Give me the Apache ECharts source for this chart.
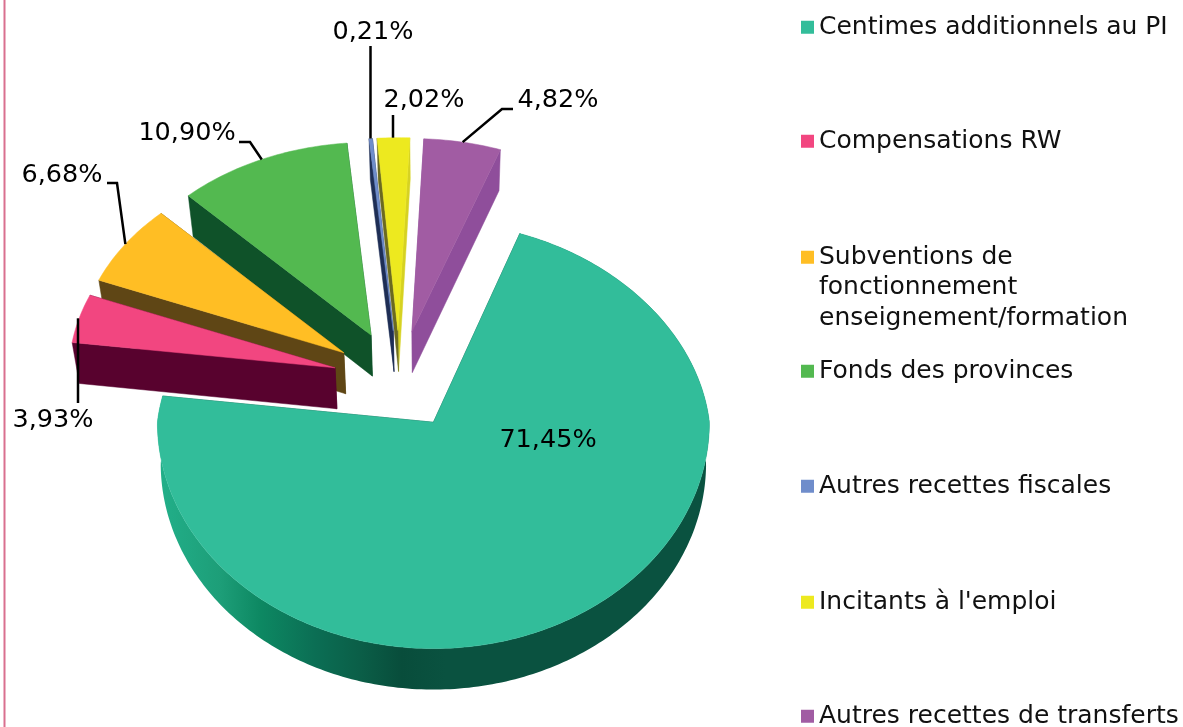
<!DOCTYPE html>
<html lang="fr">
<head>
    <meta charset="utf-8">
    <title>Recettes</title>
    <style>html,body{margin:0;padding:0;background:#fff}</style>
</head>
<body>
<div id='chart' style='width:1183px;height:727px'></div>
<script src='https://cdn.jsdelivr.net/npm/echarts@6/dist/echarts.min.js'></script>
<script>
// data
var categories = ['Centimes additionnels au PI', 'Compensations RW',
    'Subventions de\nfonctionnement\nenseignement/formation', 'Fonds des provinces',
    'Autres recettes fiscales', "Incitants à l'emploi", 'Autres recettes de transferts'];
var values = [71.45, 3.93, 6.68, 10.90, 0.21, 2.02, 4.82];

// colours
var topColors = ['#32BD9A', '#F24680', '#FFBE24', '#53B950', '#6F8DCB', '#EDE91F', '#A15CA3'];
var wallColors = ['#0A5240', '#58022E', '#5F4615', '#0F5229', '#1E2E55', '#6B6A20', '#8F4E9B'];
var endWallColors = ['#0A5240', '#58022E', '#5F4615', '#0F5229', '#1E2E55', '#D6D222', '#8F4E9B'];
var mainWallStops = [[0, '#22B08A'], [0.22, '#1D9E78'], [0.36, '#0D8862'], [0.55, '#0B6E54'],
    [0.7, '#0B5F48'], [0.85, '#084D3B'], [1, '#0A5240']];

// 3d pie layout
var centerX = 399, centerY = 380;
var explode = 66, startAngle = 20, depth = 41;
var mainRadius = 276, otherRadius = 266;
var downRatio = 0.82;

// label layout: text centre, then the elbow of the leader line
var labelCenters = [[548, 440], [53, 420], [62, 175], [187, 133], [373, 32], [424, 100], [558, 100]];
var labelElbows = [null, [78, 403], [[107, 183], [117, 183]], [[239, 142], [250, 142]],
    [370.5, 46], [393, 115], [[513, 109], [502, 109]]];
var legendTops = [12, 126, 242, 356, 471, 587, 701];

var total = values.reduce(function (a, b) { return a + b; }, 0);
var angles = [], a0 = startAngle;
values.forEach(function (v) {
    var a1 = a0 + v / total * 360;
    angles.push([a0, a1]);
    a0 = a1;
});
function rad(d) { return d * Math.PI / 180; }

function apex(i) {
    var mid = rad((angles[i][0] + angles[i][1]) / 2);
    return [centerX + explode * Math.sin(mid), centerY - explode * Math.cos(mid) * 0.75];
}
function rimPoint(i, deg) {
    var c = apex(i), r = i === 0 ? mainRadius : otherRadius;
    var t = i === 0 ? 0.09 : 0.03;
    var s = Math.sin(rad(deg)), co = Math.cos(rad(deg));
    var k = co > 0 ? 0.765 - 0.04 * co : downRatio;
    return [c[0] + r * s * (1 - t * Math.max(0, co)), c[1] - r * co * k];
}
function lowerOf(i) {
    var shrink = i === 0 ? 0.988 : 0.98;
    return function (p) {
        return [433 + (p[0] - 433) * shrink, p[1] + depth];
    };
}
function arc(i, from, to) {
    var pts = [], n = Math.max(2, Math.ceil(Math.abs(to - from)));
    for (var k = 0; k <= n; k++) pts.push(rimPoint(i, from + (to - from) * k / n));
    return pts;
}

function drawSlice(i, order) {
    return function () {
        var a = angles[i], c = apex(i), rim = arc(i, a[0], a[1]), lower = lowerOf(i);
        var last = rim[rim.length - 1];
        var children = [];
        function poly(pts, fill, stroke) {
            children.push({type: 'polygon', z2: order, shape: {points: pts},
                style: {fill: fill, stroke: stroke || null, lineWidth: stroke ? 0.5 : 0}});
        }
        // cut faces, then the outer wall (only the big slice faces the viewer), then the top
        poly([c, last, lower(last), lower(c)], endWallColors[i], endWallColors[i]);
        poly([c, rim[0], lower(rim[0]), lower(c)], wallColors[i], wallColors[i]);
        if (i === 0) {
            poly(rim.concat(rim.map(lower).reverse()),
                new echarts.graphic.LinearGradient(157, 0, 445, 0, mainWallStops.map(function (s) {
                    return {offset: s[0], color: s[1]};
                }), true));
        }
        poly([c].concat(rim), topColors[i], topColors[i]);

        // label and leader line
        var mid = (a[0] + a[1]) / 2, anchor = rimPoint(i, mid), elbow = labelElbows[i];
        if (elbow) {
            var line = Array.isArray(elbow[0]) ? elbow.concat([anchor]) : [elbow, [elbow[0], anchor[1]]];
            children.push({type: 'polyline', z2: 100, shape: {points: line},
                style: {stroke: '#000', lineWidth: 2.5, fill: null}});
        }
        children.push({type: 'text', z2: 101, x: labelCenters[i][0], y: labelCenters[i][1], style: {
            text: values[i].toFixed(2).replace('.', ',') + '%',
            font: '25.5px "DejaVu Sans"', fill: '#000', align: 'center', verticalAlign: 'middle'
        }});
        return {type: 'group', children: children};
    };
}

var paintOrder = values.map(function (v, i) { return i; }).sort(function (p, q) {
    return apex(p)[1] - apex(q)[1];
});

var myChart = echarts.init(document.getElementById('chart'), null, {renderer: 'canvas'});
myChart.setOption({
    animation: false,
    backgroundColor: '#fff',
    graphic: [{type: 'line', shape: {x1: 4.5, y1: 0, x2: 4.5, y2: 727}, style: {stroke: '#D9708F', lineWidth: 2}}],
    legend: categories.map(function (name, i) {
        var tall = name.indexOf('\n') >= 0;
        return {
            data: [name], left: 801, top: legendTops[i], padding: 0,
            itemWidth: 13, itemHeight: tall ? 74 : 13, itemGap: 8,
            icon: tall ? 'path://M0 0H13V13H0Z M0 74H0.01V74Z' : 'rect',
            selectedMode: false,
            textStyle: {fontFamily: 'DejaVu Sans', fontSize: 25, color: '#111', lineHeight: 30.5}
        };
    }),
    series: paintOrder.map(function (i, order) {
        return {
            type: 'custom',
            name: categories[i],
            coordinateSystem: 'none',
            silent: true,
            itemStyle: {color: topColors[i]},
            data: [values[i]],
            renderItem: drawSlice(i, order)
        };
    })
});
</script>
</body>
</html>
